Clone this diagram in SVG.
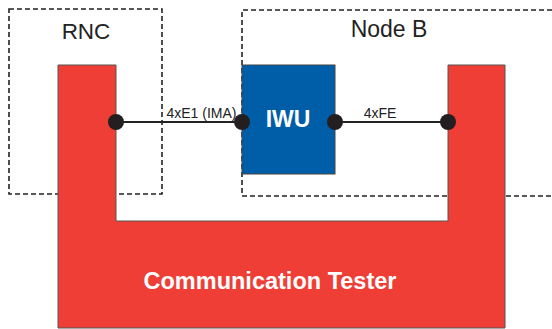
<svg xmlns="http://www.w3.org/2000/svg" width="552" height="329" viewBox="0 0 552 329">
<style>
.dash{fill:none;stroke:#222;stroke-width:1.6;stroke-dasharray:5,3}
.lbl{font-family:"Liberation Sans",Arial,sans-serif;fill:#222}
.wt{font-family:"Liberation Sans",Arial,sans-serif;fill:#fff;font-weight:bold}
.dot{fill:#231f20}
</style>
<rect width="552" height="329" fill="#fff"/>
<g id="rnc">
<rect class="dash" x="9" y="9" width="153" height="185"/>
<text class="lbl" x="86" y="39" font-size="22.5" text-anchor="middle">RNC</text>
</g>
<g id="nodeb">
<path class="dash" d="M552,10 H242 V196 H552"/>
<text class="lbl" x="389" y="36.5" font-size="23" text-anchor="middle">Node B</text>
</g>
<g id="tester">
<path d="M58,65 H116 V221 H448 V65 H505 V328 H58 Z" fill="#ee3e36" stroke="#555" stroke-width="1"/>
<text class="wt" x="270" y="289" font-size="23.5" text-anchor="middle">Communication Tester</text>
</g>
<g id="iwu">
<rect x="242" y="65" width="93" height="109" fill="#005ea8" stroke="#444" stroke-width="1"/>
<text class="wt" x="288" y="126.5" font-size="23" text-anchor="middle">IWU</text>
</g>
<g id="connectors">
<line x1="116" y1="122" x2="242" y2="122" stroke="#222" stroke-width="2"/>
<line x1="335" y1="122" x2="448" y2="122" stroke="#222" stroke-width="2"/>
<circle class="dot" cx="116" cy="122" r="8"/>
<circle class="dot" cx="242" cy="122" r="8"/>
<circle class="dot" cx="335" cy="122" r="8"/>
<circle class="dot" cx="448" cy="122" r="8"/>
<text class="lbl" x="201.5" y="118" font-size="14" text-anchor="middle">4xE1 (IMA)</text>
<text class="lbl" x="380" y="118" font-size="14" text-anchor="middle">4xFE</text>
</g>
</svg>
